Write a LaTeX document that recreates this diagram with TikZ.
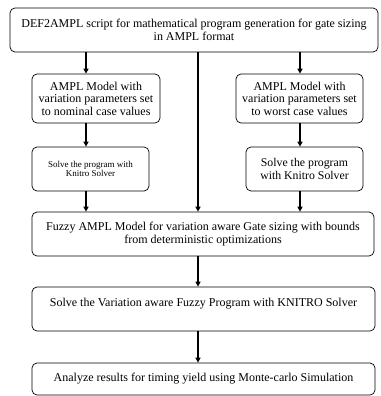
\documentclass[tikz,border=0pt]{standalone}
\usepackage{fontspec}
\setmainfont{Liberation Serif}
\usetikzlibrary{arrows.meta,calc}
\def\boxround{5pt}
\def\txtsize{\fontsize{12}{12.5}\selectfont}

\begin{document}
\begin{tikzpicture}[x=1pt,y=-1pt,
	stage/.style={rectangle,draw,rounded corners=\boxround,line width=0.7pt,align=center,inner sep=0pt,font=\txtsize},
	flow/.style={-{Triangle[length=5pt,width=5pt]},line width=1.3pt}
	]
	\useasboundingbox (0,0) rectangle (380,396);
	
	\coordinate (colL) at (86,0);
	\coordinate (colM) at (198,0);
	\coordinate (colR) at (300,0);
	
	\node[stage, minimum width=368, minimum height=44] (script) at (194,30) {DEF2AMPL script for mathematical program generation for gate sizing\\ in AMPL format};
	
	\node[stage, minimum width=128, minimum height=49] (nominal) at (96,98.5) {AMPL Model with\\ variation parameters set\\ to nominal case values};
	\node[stage, minimum width=127, minimum height=49] (worst) at (299.5,98.5) {AMPL Model with\\ variation parameters set\\ to worst case values};
	
	\node[stage, minimum width=117, minimum height=44, font=\fontsize{9}{9.2}\selectfont] (solveN) at (90.5,169) {Solve the program with\\ Knitro Solver};
	\node[stage, minimum width=117, minimum height=44, font=\fontsize{11.8}{13}\selectfont] (solveW) at (304.5,169) {Solve the program\\ with Knitro Solver};
	
	\node[stage, minimum width=342, minimum height=44] (fuzzy) at (203,234) {Fuzzy AMPL Model for variation aware Gate sizing with bounds\\ from deterministic optimizations};
	\node[stage, minimum width=343, minimum height=44] (solveF) at (203.5,309) {Solve the Variation aware Fuzzy Program with KNITRO Solver\\ ~};
	\node[stage, minimum width=343, minimum height=32] (analyze) at (203.5,379) {Analyze results for timing yield using Monte-carlo Simulation};
	
	\draw[flow] (script.south -| colL) -- (nominal.north -| colL);
	\draw[flow] (script.south -| colR) -- (worst.north -| colR);
	\draw[flow] (nominal.south -| colL) -- (solveN.north -| colL);
	\draw[flow] (worst.south -| colR) -- (solveW.north -| colR);
	\draw[flow] (solveN.south -| colL) -- (fuzzy.north -| colL);
	\draw[flow] (solveW.south -| colR) -- (fuzzy.north -| colR);
	\draw[flow] (script.south -| colM) -- (fuzzy.north -| colM);
	\draw[flow] (fuzzy.south -| colM) -- (solveF.north -| colM);
	\draw[flow] (solveF.south -| colM) -- (analyze.north -| colM);
\end{tikzpicture}
\end{document}
